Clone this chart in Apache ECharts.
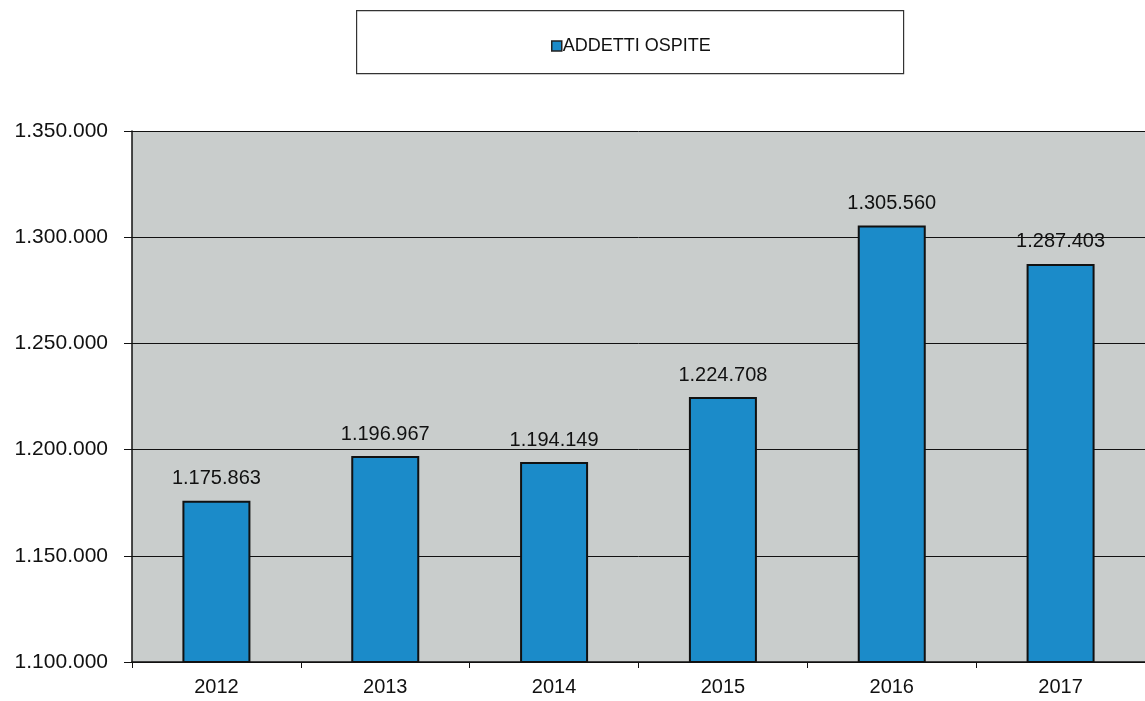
<!DOCTYPE html>
<html><head><meta charset="utf-8">
<script src="https://cdn.jsdelivr.net/npm/echarts@6/dist/echarts.min.js"></script>
<style>html,body{margin:0;padding:0;background:#fff}#c{width:1145px;height:701px}</style>
</head><body><div id="c"></div>
<script>
const categories = ['2012','2013','2014','2015','2016','2017'];
const addettiOspite = [1175863, 1196967, 1194149, 1224708, 1305560, 1287403];
const seriesName = 'ADDETTI OSPITE';
const yTicks = { min: 1100000, max: 1350000, interval: 50000 };

function fmt(v){ return String(v).replace(/\B(?=(\d{3})+(?!\d))/g, '.'); }

const chart = echarts.init(document.getElementById('c'));
chart.setOption({
  animation: false,
  textStyle: { fontFamily: 'Liberation Sans, Arial, sans-serif' },
  graphic: [{
    type: 'rect', left: 356, top: 10, shape: { width: 547, height: 63 },
    style: { fill: '#fff', stroke: '#333', lineWidth: 1.2 }, z: -1
  }],
  legend: {
    top: 32, left: 546, itemWidth: 10, itemHeight: 10, itemGap: 4, icon: 'rect',
    data: [{ name: seriesName, itemStyle: { borderColor: '#222', borderWidth: 1.5 } }],
    textStyle: { fontSize: 18, color: '#111', padding: [0, 0, 0, -4] }
  },
  grid: { left: 132, top: 131, bottom: 39, width: 1020, show: true, backgroundColor: '#c9cdcc', borderWidth: 0 },
  xAxis: {
    type: 'category', data: categories,
    axisLine: { lineStyle: { color: '#111', width: 1.5 } },
    axisTick: { show: true, alignWithLabel: false, length: 6, lineStyle: { color: '#111' } },
    axisLabel: { fontSize: 20, color: '#111', margin: 15 }
  },
  yAxis: {
    type: 'value', min: yTicks.min, max: yTicks.max, interval: yTicks.interval,
    axisLine: { show: true, lineStyle: { color: '#111', width: 1.5 } },
    axisTick: { show: true, length: 8, lineStyle: { color: '#111' } },
    splitLine: { lineStyle: { color: '#111', width: 1 } },
    axisLabel: { fontSize: 21, color: '#111', margin: 24, formatter: fmt }
  },
  series: [{
    name: seriesName, type: 'bar', data: addettiOspite, barWidth: 68,
    itemStyle: { color: '#1b8bc9', borderColor: '#111', borderWidth: 2 },
    label: { show: true, position: 'top', distance: 12, fontSize: 20, color: '#111', formatter: p => fmt(p.value) }
  }]
});
</script></body></html>
